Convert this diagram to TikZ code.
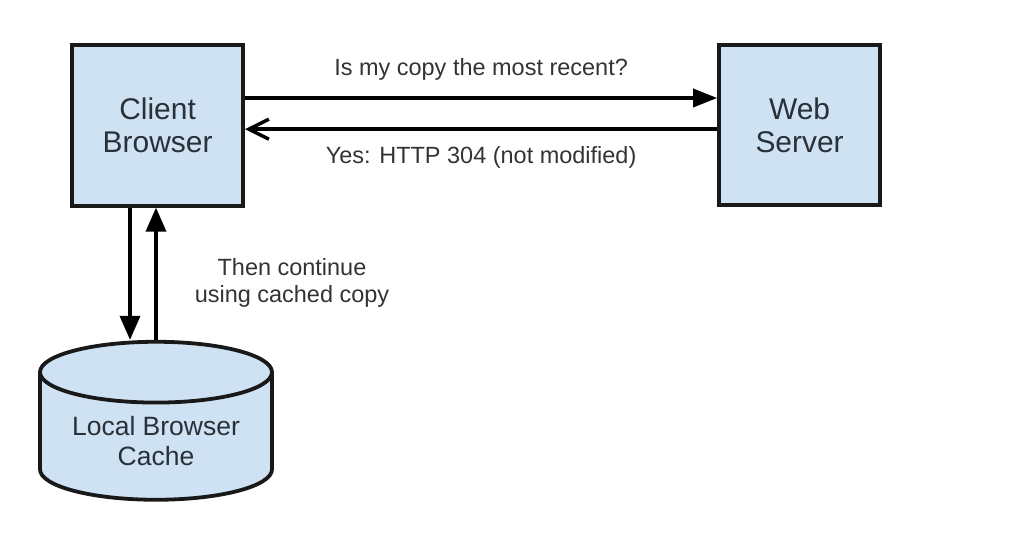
\documentclass[tikz,border=0pt]{standalone}
\usepackage{fontspec}
\setmainfont{Liberation Sans}
\usetikzlibrary{arrows.meta,shapes.geometric}

\begin{document}
\begin{tikzpicture}
\definecolor{cfbox}{rgb}{0.812,0.886,0.953}
\definecolor{cdbox}{rgb}{0.1,0.1,0.1}
\definecolor{ctbox}{rgb}{0.16,0.19,0.22}
\definecolor{clabel}{rgb}{0.2,0.2,0.2}
\tikzset{
  boxnode/.style={draw=cdbox,fill=cfbox,text=ctbox,line width=2.7pt,shape=rectangle,align=center,font=\fontsize{21.3}{23.5}\selectfont},
  cachenode/.style={draw=cdbox,fill=cfbox,text=ctbox,line width=2.7pt,shape=cylinder,shape border rotate=90,aspect=0.343,align=center,font=\fontsize{18.85}{21.3}\selectfont},
  edgelabel/.style={text=clabel,align=center,font=\fontsize{16.7}{19.2}\selectfont},
  link/.style={line width=2.5pt,color=black},
}
\useasboundingbox (0,0) rectangle (25.475,13.65);
%
\node[boxnode,minimum width=4.275cm,minimum height=4.025cm] (client) at (3.94,10.52) {Client\\Browser};
\node[boxnode,minimum width=4.025cm,minimum height=4.0cm] (web) at (19.99,10.52) {Web\\Server};
\node[cachenode,minimum width=5.8cm,minimum height=3.95cm] (cache) at (3.9,2.62) {Local Browser\\Cache};
\node[edgelabel] (note) at (7.3,6.575) {Then continue\\using cached copy};
%
\draw[link,-{Triangle[length=0.6cm,width=0.45cm]}] ([yshift=0.68cm]client.east) -- node[edgelabel,yshift=0.72cm]{Is my copy the most recent?} ([yshift=0.68cm]web.west);
\draw[link,-{Straight Barb[length=0.5cm,width=0.5cm]}] ([yshift=-0.1cm]web.west) -- node[edgelabel,yshift=-0.7cm]{Yes: HTTP 304 (not modified)} ([yshift=-0.1cm]client.east);
\draw[link,-{Triangle[length=0.6cm,width=0.5cm]}] ([xshift=-0.69cm]client.south) -- ([xshift=-0.69cm]client.south |- cache.north);
\draw[link,-{Triangle[length=0.6cm,width=0.5cm]}] (cache.north) -- (cache.north |- client.south);
%
\end{tikzpicture}
\end{document}
